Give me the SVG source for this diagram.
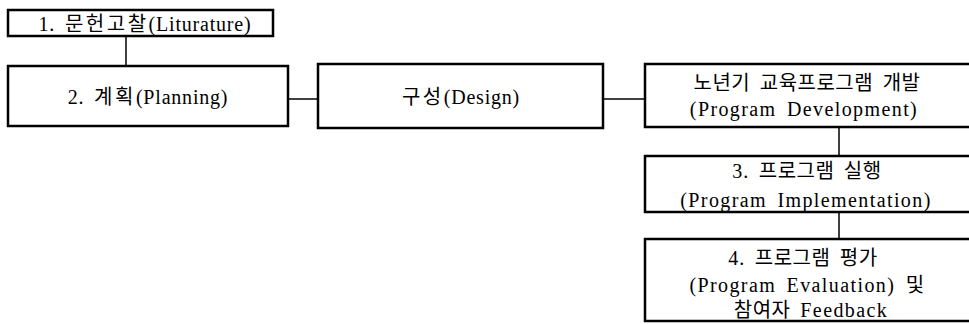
<svg xmlns="http://www.w3.org/2000/svg" width="969" height="324" viewBox="0 0 969 324">
<style>
.box{fill:#fff;stroke:#000;stroke-width:2.5}
.ln{stroke:#000;stroke-width:1.5;fill:none}
text{font-family:"Liberation Serif","Noto Sans CJK KR",serif;font-size:20px;fill:#000;text-anchor:middle;letter-spacing:0.8px;word-spacing:4px}
.w{letter-spacing:1.4px}
.k{letter-spacing:0.5px}
</style>
<rect width="969" height="324" fill="#fff"/>
<g id="connectors">
<line class="ln" x1="126" y1="36" x2="126" y2="66"/>
<line class="ln" x1="288" y1="99" x2="318" y2="99"/>
<line class="ln" x1="603" y1="99" x2="645" y2="99"/>
<line class="ln" x1="839" y1="127" x2="839" y2="156"/>
<line class="ln" x1="839" y1="212" x2="839" y2="239"/>
</g>
<g id="n1"><rect class="box" x="8" y="10" width="265" height="26"/><text x="145" y="31">1. <tspan letter-spacing="2.5">문헌고찰</tspan>(Liturature)</text></g>
<g id="n2"><rect class="box" x="8" y="66" width="280" height="60"/><text x="148" y="104">2. <tspan letter-spacing="2.5">계획</tspan>(Planning)</text></g>
<g id="n3"><rect class="box" x="318" y="64" width="285" height="64"/><text x="461" y="104"><tspan letter-spacing="2.5">구성</tspan>(Design)</text></g>
<g id="n4"><rect class="box" x="645" y="64" width="340" height="63"/><text class="k" x="807" y="90">노년기 교육프로그램 개발</text><text class="w" x="804" y="116">(Program Development)</text></g>
<g id="n5"><rect class="box" x="645" y="156" width="340" height="56"/><text x="807" y="178">3. <tspan class="k">프로그램 실행</tspan></text><text class="w" x="806" y="207">(Program Implementation)</text></g>
<g id="n6"><rect class="box" x="645" y="239" width="340" height="82"/><text x="803" y="265">4. <tspan class="k">프로그램 평가</tspan></text><text class="w" x="807" y="292">(Program Evaluation) <tspan class="k">및</tspan></text><text x="811" y="317"><tspan class="k">참여자</tspan> <tspan class="w">Feedback</tspan></text></g>
</svg>
